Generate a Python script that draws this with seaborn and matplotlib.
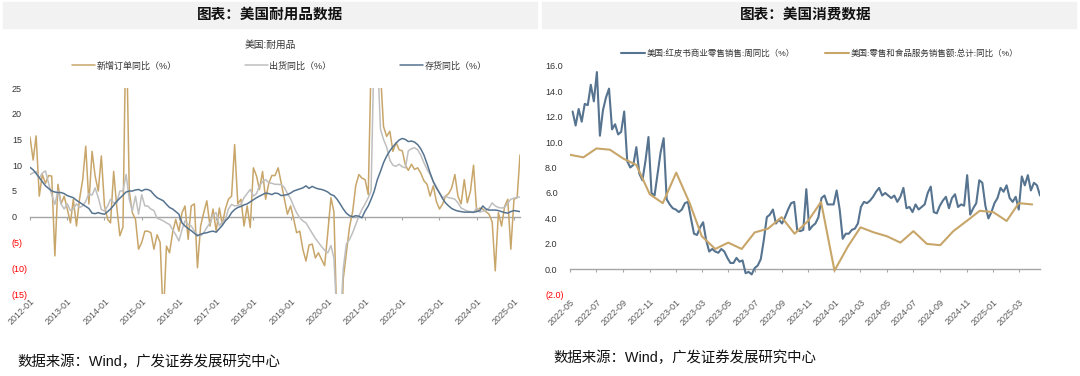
import pandas as pd
import seaborn as sns
import matplotlib.pyplot as plt
from matplotlib.patches import Rectangle
import matplotlib.dates as mdates

# ---- left panel: US durable goods, yoy %, monthly from 2012-01
DUR_START = '2012-01-01'
orders = [15.5, 11, 15.7, 4, 8.2, 6.5, 8, 7.9, -7.6, 6.3, 2.5, 4, 1.5, -1.2, 3.4, -1.8, 3.4, 7.2, 13.7, 2.5,
          12.7, 7.9, 5, 11.8, 2.1, -0.5, -1.2, 8.8, 2, -3.7, -2, 40, 5, 0.8, -0.5, -6.3, -5, -2.8, -2.8, -3.1,
          -6.3, -3.5, -5, -20, -5.7, -7, -3, -0.5, -2.8, 0.8, 2.1, -4.4, 2.1, 2.5, -9.9, -1.8, 0.8, 3.1, -1.8, 1.5,
          -2.8, 1.7, -1.5, 1.5, 3.4, 4, 14, 2.5, 3.4, -1.8, 2.1, -2.1, 9.5, 7.9, 5.3, 8.8, 3.4, 6.5, 8, 8,
          9.5, 6.5, 3.5, 0.5, 2.1, -0.5, -3.1, -2.8, -6.3, -8.6, -5.5, -5.3, -8, -7, -8.3, -9.5, -3.1, 3.7, 1, -22,
          -30, -12, -7, -2, 1, 6, 8.2, 7.5, 7.2, 4.3, 30, 50, 40, 28, 17.5, 15.6, 16.6, 12.7, 14.4, 13,
          12.8, 10, 9, 10.2, 9.2, 9.5, 8.5, 7, 6.3, 4, 6, 3, 1.5, 2.5, 4, 4.5, 5.6, 8.2, 4, 2.5,
          7.2, 2.7, 5, 10, 1, 1.7, 1.5, 1, 0.5, -1, -10.5, 0.8, -1.8, 2, 3.4, -6.3, 3.4, 3.7, 12]
shipments = [8.2, 8.5, 8.8, 7.5, 8.5, 8.9, 6.5, 4.3, 2.4, 5, 2.5, 1.5, 2.5, 1.2, 1.5, 2.5, 1.8, 2.1, 3, 4.5,
             4.2, 5.6, 3.7, 1.4, 1.1, 2.1, 3.4, 2.7, 2.7, 5, 5, 8.2, 3.4, 1.1, 4, 0.5, 4.3, 2.1, 2.1, 1.5,
             1.2, -0.3, -0.5, -0.8, -1.2, -1.5, -2.5, -3.5, -4.7, -2.5, -0.8, -1.5, -1.8, -2.8, -3.5, -3.7, -3.1, -2.1, -1.2, 0.3,
             0.8, -1.8, -1, -0.5, 1.5, 2.4, 2.1, 2.2, 2.4, 3.7, 4.5, 5.3, 4, 4.5, 6, 6.8, 7.2, 6.6, 6.5, 6.3,
             6.3, 6.2, 5.7, 4.5, 3.5, 2.0, 0.8, -0.2, -0.8, -1.2, -2.2, -3.2, -4.2, -5, -5.8, -6.5, -7, -5.6, -8, -20,
             -22, -10, -5.3, -4.4, -3.1, -1.5, 0.1, 1.4, 2.5, 3.7, 5, 35, 32, 17, 15, 13.5, 11, 10, 9.8, 10.2,
             9.7, 9.5, 12.8, 13.2, 13.4, 13, 12, 10.5, 9.2, 8.2, 6.9, 5.9, 4.7, 3.7, 4, 3.7, 3.6, 3.4, 2.7, 1.7,
             1.4, 1.1, 1.0, 0.8, 1.7, 0.9, 1.1, 1.2, 1.7, 2.7, 2.1, 1.8, 1.7, 1.8, 2.7, 3.4, 3.6, 3.8, 3.8]
inventory = [9.6, 9.1, 8.4, 7.6, 6.8, 6.0, 5.5, 5.0, 4.8, 4.7, 4.7, 4.5, 4.1, 3.9, 3.7, 3.2, 2.8, 2.4, 2.0, 1.6,
             0.7, 0.6, 0.8, 0.6, 0.5, 1.0, 1.5, 2.2, 3.0, 3.6, 4.2, 4.8, 5.0, 5.0, 5.2, 5.3, 5.0, 5.3, 5.3, 5.0,
             4.3, 3.7, 3.4, 3.1, 2.4, 1.8, 1.5, 1.0, 0.5, -1.2, -1.8, -2.3, -2.7, -3.2, -3.7, -3.4, -3.2, -3.1, -2.9, -2.8,
             -3.0, -2.3, -1.7, -0.8, -0.2, 0.8, 1.4, 1.8, 2.0, 2.3, 2.5, 2.9, 3.3, 3.7, 4.0, 4.3, 4.6, 4.5, 4.3, 4.6,
             4.5, 4.1, 4.2, 4.3, 4.6, 5.0, 5.2, 5.4, 5.6, 6.0, 5.5, 5.9, 5.6, 5.4, 5.3, 5.1, 4.8, 4.3, 4.1, 3.4,
             2.5, 1.5, 0.7, 0.2, 0.0, 0.2, 0.1, -0.2, 1.1, 2.1, 3.4, 5.0, 7.2, 8.8, 10.5, 11.8, 12.8, 13.6, 14.3, 14.9,
             15.2, 15.0, 14.6, 14.7, 14.5, 14.0, 13.2, 12.0, 10.3, 8.5, 6.8, 5.6, 4.6, 3.5, 2.7, 2.1, 1.6, 1.3, 1.1, 1.0,
             0.9, 0.9, 0.9, 0.9, 1.0, 1.2, 2.1, 1.5, 1.3, 1.3, 1.3, 1.2, 1.0, 0.8, 0.7, 1.0, 1.2, 1.1, 1.0]
DUR_NAMES = ['新增订单同比（%）', '出货同比（%）', '存货同比（%）']

# ---- right panel: Redbook weekly yoy, retail & food services monthly yoy
RB_START = '2022-05-07'
redbook = [12.4, 11.3, 12.6, 11.6, 13, 12.9, 14.5, 13.2, 15.5, 10.5, 12.5, 13.5, 14.2, 11, 11.4, 10.6, 10.8, 12.4,
           8.5, 8, 8.2, 9.6, 7.5, 7, 8.5, 10.4, 6, 5.8, 7.5, 9.2, 10.3, 5.5, 5.1, 4.8, 4.7, 4.5, 4.7, 5.2,
           5.3, 4, 2.8, 2.7, 3.3, 3.7, 2.3, 1.4, 1.6,
           1.4, 1.3, 1.6, 1.4, 0.9, 0.5, 0.5, 0.9, 0.6, 0.7, -0.3, -0.2, -0.4, 0.1, 0.3, 0.8, 2.3, 4.1, 4.3, 4.7,
           3.6, 3.9, 3.6, 4.1, 4.7, 5.2, 5.3, 3.1, 3.0, 3.1, 6.3, 3.1, 3.4, 3.6, 4.1, 5.6, 5.8, 5.1, 5.1, 5.1,
           6.2, 4.7, 2.4, 2.8, 2.8, 3.1, 3.2, 3.6, 4.9, 5.3, 5.2, 5.4, 5.7,
           6.1, 6.4, 5.8, 6.0, 5.8, 5.6, 5.8, 5.3, 5.7, 6.4, 4.8, 4.9, 4.5, 5.1, 4.7, 4.9, 5.1, 6.0, 6.5, 4.5,
           4.4, 5.0, 5.4, 5.7, 4.8, 5.6, 5.9, 4.9, 5.1, 5.0, 7.4, 4.3, 4.8, 5.2, 7.0, 6.8, 5.0, 4.0, 4.5, 5.2,
           5.6, 6.4, 6.1, 6.6, 5.6, 5.3, 5.7, 4.7, 7.3, 6.6, 7.4, 6.2, 6.8, 6.6, 5.8]
RT_START = '2022-05-01'
retail = [9.0, 8.8, 9.5, 9.4, 8.7, 8.2, 5.9, 5.2, 7.6, 5.2, 2.6, 1.6, 2.1, 1.6, 2.9, 3.2, 4.1, 2.8,
          3.8, 5.3, -0.1, 1.8, 3.3, 2.9, 2.6, 2.1, 3.0, 2.0, 1.9, 3.0, 3.8, 4.6, 4.5, 3.8, 5.2, 5.1]
CON_NAMES = ['美国:红皮书商业零售销售:周同比（%）', '美国:零售和食品服务销售额:总计:同比（%）']

GOLD = '#C8A66A'
GREY = '#BFBFBF'
BLUE = '#56738F'
ZERO = '#A6A6A6'
TICK = '#595959'
W, H = 1080, 376

sns.set_theme(style='white')
plt.rcParams['font.family'] = ['Liberation Sans', 'Noto Sans CJK SC', 'DejaVu Sans']


def fig_box(x0, y0, x1, y1):
    # pixel box (top-left origin) -> figure fraction rect
    return [x0 / W, 1 - y1 / H, (x1 - x0) / W, (y1 - y0) / H]


def style_axis(ax, yticks, ylabels, ypad, xticks, xfmt, zero_frac):
    for s in ax.spines.values():
        s.set_visible(False)
    ax.set_xlabel('')
    ax.set_ylabel('')
    ax.set_yticks(yticks)
    ax.set_yticklabels(ylabels)
    ax.tick_params(axis='y', length=0, labelsize=6.5, pad=ypad)
    for lbl, v in zip(ax.get_yticklabels(), yticks):
        lbl.set_ha('left')
        lbl.set_color('#FF0000' if v < 0 else '#333333')
    ax.set_xticks(xticks)
    ax.xaxis.set_major_formatter(mdates.DateFormatter(xfmt))
    ax.tick_params(axis='x', length=0, labelsize=6.5, labelcolor=TICK, pad=2)
    for lbl in ax.get_xticklabels():
        lbl.set_rotation(45)
        lbl.set_ha('right')
        lbl.set_rotation_mode('anchor')
    # zero line with small ticks
    sec = ax.secondary_xaxis(zero_frac)
    sec.set_xticks(mdates.date2num(xticks))
    sec.tick_params(length=2.5, width=0.8, color=ZERO, labelbottom=False)
    for name, s in sec.spines.items():
        s.set_visible(name == 'bottom')
    sec.spines['bottom'].set_color(ZERO)
    sec.spines['bottom'].set_linewidth(1.0)


fig = plt.figure(figsize=(W / 100, H / 100), dpi=100)

# headers
for x0, x1, cx, title in [(3, 537, 270, '图表：美国耐用品数据'), (542, 1076, 806, '图表：美国消费数据')]:
    fig.patches.append(Rectangle((x0 / W, 1 - 28 / H), (x1 - x0) / W, 26 / H,
                                 transform=fig.transFigure, color='#F2F2F2', zorder=0))
    fig.text(cx / W, 1 - 15 / H, title, ha='center', va='center', fontsize=10.5,
             fontweight='bold', color='#111111')

# ---- left
ax1 = fig.add_axes(fig_box(30, 88, 520, 294))
dur = pd.DataFrame({'date': pd.date_range(DUR_START, periods=len(orders), freq='MS'),
                    DUR_NAMES[0]: orders, DUR_NAMES[1]: shipments, DUR_NAMES[2]: inventory})
dur_long = dur.melt(id_vars='date', var_name='series', value_name='value')
sns.lineplot(data=dur_long, x='date', y='value', hue='series', hue_order=DUR_NAMES,
             palette=[GOLD, GREY, BLUE], linewidth=1.1, ax=ax1)
h1, l1 = ax1.get_legend_handles_labels()
ax1.get_legend().remove()
ax1.set_xlim(dur['date'].iloc[0], dur['date'].iloc[-1])
ax1.set_ylim(-15, 25)
yt1 = list(range(-15, 30, 5))
style_axis(ax1, yt1, [f'({-v})' if v < 0 else str(v) for v in yt1], 13,
           pd.date_range('2012-01-01', '2025-01-01', freq='YS'), '%Y-%m', 15 / 40)
fig.text(270 / W, 1 - 45 / H, '美国:耐用品', ha='center', va='center', fontsize=7, color='#333333')
fig.legend(h1, l1, loc='center left', bbox_to_anchor=(72 / W, 1 - 66 / H), ncol=3, frameon=False,
           fontsize=6.5, handlelength=2.5, handletextpad=0.2, columnspacing=7.6,
           borderaxespad=0, borderpad=0, labelcolor='#333333')

# ---- right
ax2 = fig.add_axes(fig_box(570, 65.7, 1040, 294.8))
rb = pd.DataFrame({'date': pd.date_range(RB_START, periods=len(redbook), freq='7D'),
                   'value': redbook, 'series': CON_NAMES[0]})
rt = pd.DataFrame({'date': pd.date_range(RT_START, periods=len(retail), freq='MS'),
                   'value': retail, 'series': CON_NAMES[1]})
con = pd.concat([rb, rt], ignore_index=True)
sns.lineplot(data=con, x='date', y='value', hue='series', hue_order=CON_NAMES,
             palette=[BLUE, GOLD], linewidth=1.5, ax=ax2)
h2, l2 = ax2.get_legend_handles_labels()
ax2.get_legend().remove()
ax2.set_xlim(pd.Timestamp(RT_START), rb['date'].iloc[-1])
ax2.set_ylim(-2, 16)
yt2 = list(range(-2, 18, 2))
style_axis(ax2, yt2, [f'({-v:.1f})' if v < 0 else f'{v:.1f}' for v in yt2], 18,
           pd.date_range('2022-05-01', '2025-03-01', freq='2MS'), '%Y-%m', 2 / 18)
fig.legend(h2, l2, loc='center left', bbox_to_anchor=(621 / W, 1 - 54 / H), ncol=2, frameon=False,
           fontsize=6.1, handlelength=2.8, handletextpad=0.2, columnspacing=3.6,
           borderaxespad=0, borderpad=0, labelcolor='#333333')

# footnotes
fig.text(17 / W, 1 - 362 / H, '数据来源：Wind，广发证券发展研究中心', va='center', fontsize=10.4, color='#111111')
fig.text(553 / W, 1 - 358 / H, '数据来源：Wind，广发证券发展研究中心', va='center', fontsize=10.4, color='#111111')

fig.savefig('out.png', dpi=100)
